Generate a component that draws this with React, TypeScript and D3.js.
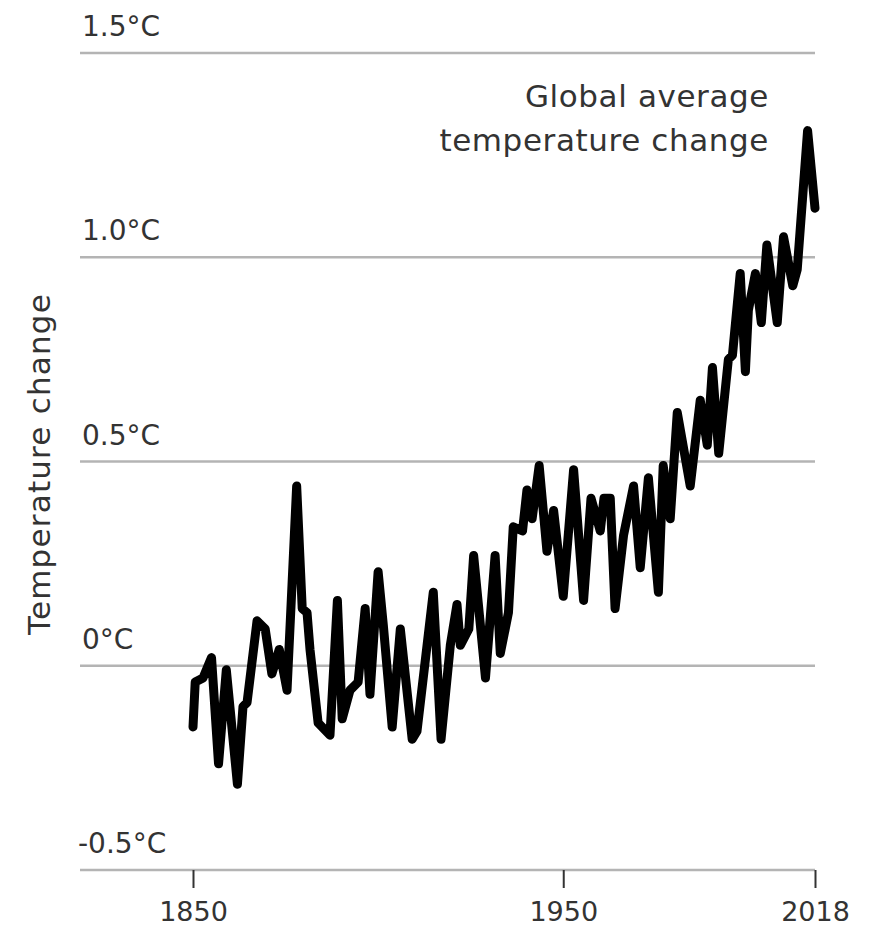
import { useEffect, useRef } from 'react';
import * as d3 from 'd3';

// vertices (year, °C change)
const years = [
  1850, 1850.6, 1852.7, 1855, 1856.9, 1859, 1862, 1863.5, 1864.6, 1867.3, 1869.5, 1871.3, 1873.3, 1875.4,
  1878, 1879.5, 1880.8, 1881.6, 1883.8, 1887, 1889, 1890.3, 1892.4, 1894.6, 1896.5, 1897.8, 1900, 1901.4,
  1903.8, 1906, 1909.2, 1910.5, 1914.9, 1917, 1919.5, 1921.3, 1922.2, 1924.5, 1925.8, 1929, 1931.6, 1933,
  1935.2, 1936.5, 1939, 1940.2, 1941.6, 1943.5, 1945.6, 1947.4, 1950, 1952.8, 1955.5, 1957.5, 1960, 1961,
  1962.7, 1964, 1966.3, 1969, 1970.8, 1973, 1975.7, 1977, 1978.9, 1980.8, 1984.3, 1987, 1988.9, 1990.3,
  1992, 1994.6, 1995.7, 1997.8, 1999.2, 2000, 2001.9, 2003.5, 2005, 2007.8, 2009.5, 2012, 2013.2, 2016, 2018,
];
const anomaly = [
  -0.15, -0.04, -0.03, 0.02, -0.24, -0.01, -0.29, -0.1, -0.09, 0.11, 0.09, -0.02, 0.04, -0.06,
  0.44, 0.14, 0.13, 0.04, -0.14, -0.17, 0.16, -0.13, -0.06, -0.04, 0.14, -0.07, 0.23, 0.1,
  -0.15, 0.09, -0.18, -0.16, 0.18, -0.18, 0.05, 0.15, 0.05, 0.09, 0.27, -0.03, 0.27, 0.03,
  0.13, 0.34, 0.33, 0.43, 0.36, 0.49, 0.28, 0.38, 0.17, 0.48, 0.16, 0.41, 0.33, 0.41,
  0.41, 0.14, 0.32, 0.44, 0.24, 0.46, 0.18, 0.49, 0.36, 0.62, 0.44, 0.65, 0.54, 0.73,
  0.52, 0.75, 0.76, 0.96, 0.72, 0.87, 0.96, 0.84, 1.03, 0.84, 1.05, 0.93, 0.97, 1.31, 1.12,
];

const yTicks = [-0.5, 0, 0.5, 1.0, 1.5];
const yTickLabels = ['-0.5°C', '0°C', '0.5°C', '1.0°C', '1.5°C'];
const xTicks = [1850, 1950, 2018];
const yTitle = 'Temperature change';
const noteLines = ['Global average', 'temperature change'];

const W = 879;
const H = 943;
const textColor = '#333';
const gridColor = '#b4b4b4';
const fontFamily = '"DejaVu Sans", Verdana, sans-serif';

export default function App() {
  const svgRef = useRef<SVGSVGElement>(null);

  useEffect(() => {
    if (!svgRef.current) return;
    const svg = d3.select(svgRef.current);
    svg.selectAll('*').remove();

    const x = d3.scaleLinear().domain([1850, 2018]).range([193, 815]);
    const y = d3.scaleLinear().domain([-0.5, 1.5]).range([870, 53]);
    const gridLeft = 80;
    const gridRight = 815;

    // Gridlines
    svg.append('g')
      .selectAll('line')
      .data(yTicks)
      .join('line')
      .attr('x1', gridLeft)
      .attr('x2', gridRight)
      .attr('y1', (d) => y(d))
      .attr('y2', (d) => y(d))
      .attr('stroke', gridColor)
      .attr('stroke-width', 2.5);

    // Y labels sit above their gridline
    svg.append('g')
      .selectAll('text')
      .data(yTicks)
      .join('text')
      .attr('x', (d) => (d < 0 ? 78 : 82))
      .attr('y', (d) => y(d) - 17)
      .attr('fill', textColor)
      .attr('font-size', '28px')
      .attr('font-family', fontFamily)
      .text((_, i) => yTickLabels[i]);

    // X axis ticks
    svg.append('g')
      .attr('transform', `translate(0,${y(-0.5)})`)
      .call(d3.axisBottom(x).tickValues(xTicks).tickFormat(d3.format('d')).tickSize(18).tickPadding(14))
      .call((ax) => ax.select('.domain').remove())
      .call((ax) => ax.selectAll('.tick line').attr('stroke', textColor).attr('stroke-width', 2))
      .call((ax) => ax.selectAll('.tick text')
        .attr('fill', textColor)
        .attr('font-size', '27px')
        .attr('font-family', fontFamily));

    // Y title
    svg.append('text')
      .attr('transform', `translate(50,464) rotate(-90)`)
      .attr('text-anchor', 'middle')
      .attr('fill', textColor)
      .attr('font-size', '31px')
      .attr('letter-spacing', '1.2px')
      .attr('font-family', fontFamily)
      .text(yTitle);

    // Annotation
    svg.append('g')
      .selectAll('text')
      .data(noteLines)
      .join('text')
      .attr('x', 769)
      .attr('y', (_, i) => 107 + i * 44)
      .attr('text-anchor', 'end')
      .attr('fill', textColor)
      .attr('font-size', '31px')
      .attr('letter-spacing', '0.6px')
      .attr('font-family', fontFamily)
      .text((d) => d);

    // Temperature line
    const pts = years.map((yr, i) => [yr, anomaly[i]] as [number, number]);
    const line = d3.line<[number, number]>()
      .x((d) => x(d[0]))
      .y((d) => y(d[1]));

    svg.append('path')
      .datum(pts)
      .attr('d', line)
      .attr('fill', 'none')
      .attr('stroke', '#000')
      .attr('stroke-width', 9)
      .attr('stroke-linejoin', 'round')
      .attr('stroke-linecap', 'round');
  }, []);

  return (
    <div style={{ position: 'absolute', left: 0, top: 0, width: W, height: H, background: '#fff' }}>
      <svg ref={svgRef} width={W} height={H} style={{ display: 'block' }} />
    </div>
  );
}
